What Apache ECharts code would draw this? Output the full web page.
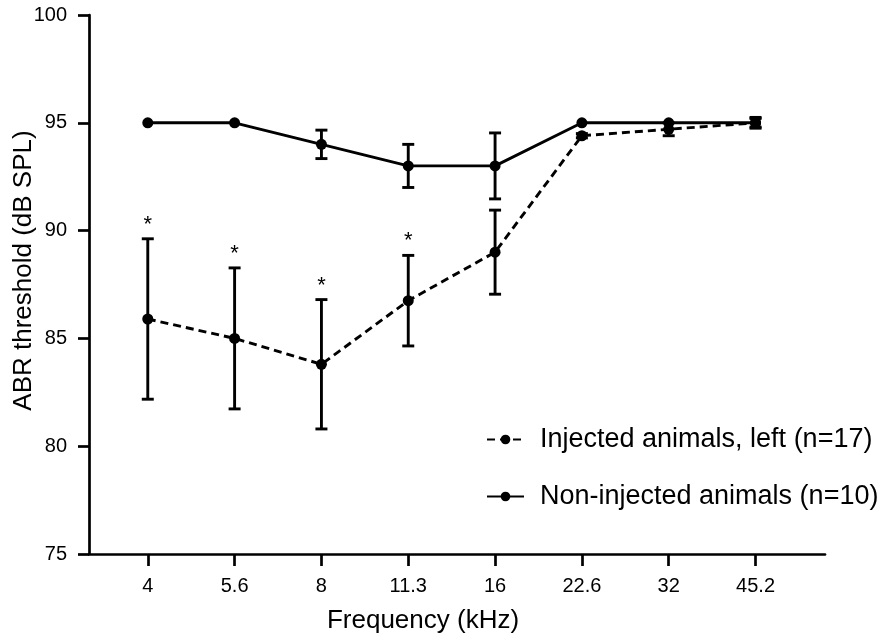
<!DOCTYPE html>
<html>
<head>
<meta charset="utf-8">
<script src="https://cdn.jsdelivr.net/npm/echarts@6/dist/echarts.min.js"></script>
<style>
html,body{margin:0;padding:0;background:#fff;}
#chart1{width:884px;height:640px;}
</style>
</head>
<body>
<div id="chart1"></div>
<script>
// frequency categories (kHz)
var freqLabels=['4','5.6','8','11.3','16','22.6','32','45.2'];
// injected animals, left ear (n=17)
var injMean=[85.9,85.0,83.8,86.75,89.0,94.4,94.7,95.0];
var injErr=[3.72,3.27,3.0,2.1,1.95,0.1,0.3,0.2];
var injSig=['*','*','*','*','','','',''];
// non-injected animals (n=10)
var nonMean=[95,95,94,93,93,95,95,95];
var nonErr=[0,0,0.66,1.0,1.53,0,0,0.25];
var yTicks=[75,80,85,90,95,100];

var FONT='Liberation Sans, Arial, sans-serif';
var chart1=echarts.init(document.getElementById('chart1'));

function pts(mean){
    var arr=[];
    for(var i=0;i<mean.length;i++){
        arr.push([i,mean[i]]);
    }
    return arr;
}
function errData(mean,err,sig){
    var arr=[];
    for(var i=0;i<mean.length;i++){
        arr.push([i,mean[i]-err[i],mean[i]+err[i],sig?sig[i]:'']);
    }
    return arr;
}
// 误差线 + 星号
function renderErr(params,api){
    var x=api.value(0);
    var lo=api.coord([x,api.value(1)]);
    var hi=api.coord([x,api.value(2)]);
    var s=api.value(3);
    var cap=6;
    var children=[];
    if(hi[1]<lo[1]-1){
        children.push({type:'line',shape:{x1:lo[0],y1:lo[1],x2:hi[0],y2:hi[1]},style:{stroke:'#000',lineWidth:2.9}});
        children.push({type:'line',shape:{x1:lo[0]-cap,y1:lo[1],x2:lo[0]+cap,y2:lo[1]},style:{stroke:'#000',lineWidth:2.9}});
        children.push({type:'line',shape:{x1:hi[0]-cap,y1:hi[1],x2:hi[0]+cap,y2:hi[1]},style:{stroke:'#000',lineWidth:2.9}});
    }
    if(s){
        children.push({type:'text',x:hi[0],y:hi[1]-14,style:{text:s,fill:'#000',font:'22px '+FONT,align:'center',verticalAlign:'middle'}});
    }
    return {type:'group',children:children};
}

var option={
    animation:false,
    textStyle:{fontFamily:FONT},
    grid:{left:89,right:59,top:15,bottom:86,outerBoundsMode:'none',containLabel:false},
    legend:{
        orient:'vertical',
        left:481,
        top:421,
        itemWidth:37,
        itemHeight:12,
        itemGap:30,
        textStyle:{fontSize:27,color:'#000',fontFamily:FONT,padding:[0,0,0,11]},
        data:['Injected animals, left (n=17)','Non-injected animals (n=10)']
    },
    xAxis:{
        type:'value',
        min:-0.677,
        max:7.8,
        name:'Frequency (kHz)',
        nameLocation:'middle',
        nameGap:54,
        nameMoveOverlap:false,
        nameTextStyle:{fontSize:26,color:'#000',padding:[0,68,0,0]},
        axisLine:{lineStyle:{color:'#000',width:2.7}},
        axisTick:{customValues:[0,1,2,3,4,5,6,7],length:12,lineStyle:{color:'#000',width:2.7}},
        axisLabel:{customValues:[0,1,2,3,4,5,6,7],margin:22,fontSize:20,color:'#000',
            formatter:function(v){return freqLabels[Math.round(v)];}},
        splitLine:{show:false}
    },
    yAxis:{
        type:'value',
        min:75,
        max:100,
        interval:5,
        name:'ABR threshold (dB SPL)',
        nameLocation:'middle',
        nameGap:52,
        nameMoveOverlap:false,
        nameTextStyle:{fontSize:26,color:'#000',padding:[0,0,0,28]},
        axisLine:{show:true,onZero:false,lineStyle:{color:'#000',width:2.7}},
        axisTick:{show:true,length:11,lineStyle:{color:'#000',width:2.7}},
        axisLabel:{margin:22,fontSize:20,color:'#000',
            formatter:function(v){return yTicks.indexOf(v)>=0?String(v):'';}},
        splitLine:{show:false}
    },
    series:[
        {
            name:'Injected animals, left (n=17)',
            type:'line',
            data:pts(injMean),
            symbol:'circle',
            symbolSize:11,
            itemStyle:{color:'#000'},
            lineStyle:{color:'#000',width:2.9,type:[8,5]},
            z:3
        },
        {
            name:'Non-injected animals (n=10)',
            type:'line',
            data:pts(nonMean),
            symbol:'circle',
            symbolSize:11,
            itemStyle:{color:'#000'},
            lineStyle:{color:'#000',width:2.9},
            z:3
        },
        {
            type:'custom',
            renderItem:renderErr,
            data:errData(injMean,injErr,injSig),
            z:2
        },
        {
            type:'custom',
            renderItem:renderErr,
            data:errData(nonMean,nonErr,null),
            z:2
        }
    ]
};
chart1.setOption(option);
</script>
</body>
</html>
